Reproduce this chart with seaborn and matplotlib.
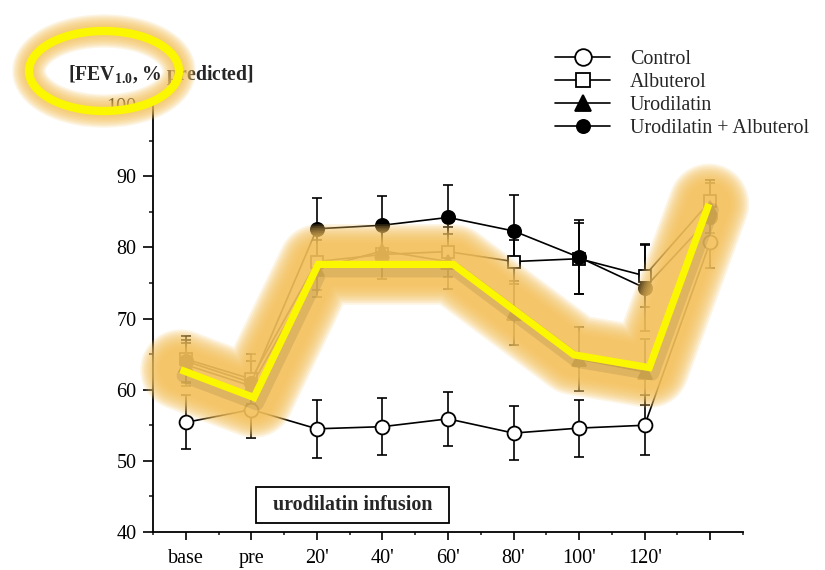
import matplotlib
matplotlib.use("Agg")
import numpy as np
import pandas as pd
import matplotlib.pyplot as plt
import seaborn as sns
from matplotlib.patches import Ellipse, Rectangle
from matplotlib.lines import Line2D
from matplotlib.ticker import FixedLocator
from matplotlib import transforms

# ---- data -------------------------------------------------------------
timepoints = ["base", "pre", "20'", "40'", "60'", "80'", "100'", "120'", ""]
series_names = ["Control", "Albuterol", "Urodilatin", "Urodilatin + Albuterol"]

control = [55.4, 57.2, 54.5, 54.8, 55.9, 53.9, 54.6, 55.0, 80.8]
control_err = [3.8, 4.0, 4.1, 4.0, 3.8, 3.8, 4.0, 4.2, 3.7]

albuterol = [64.3, 61.5, 78.0, 79.0, 79.4, 78.0, 78.4, 76.0, 86.5]
albuterol_err = [3.2, 3.5, 4.0, 3.5, 3.5, 3.1, 5.0, 4.4, 2.9]

urodilatin = [63.5, 60.5, 77.0, 79.5, 78.0, 70.8, 64.3, 62.5, 85.5]
urodilatin_err = [3.0, 3.5, 4.0, 4.0, 3.9, 4.5, 4.5, 4.6, 3.5]

uro_albu = [64.0, 61.0, 82.6, 83.1, 84.2, 82.3, 78.6, 74.3, 84.2]
uro_albu_err = [3.0, 3.0, 4.4, 4.1, 4.5, 5.0, 5.2, 6.0, 3.0]

# hand-drawn highlight path (category position, % predicted)
highlight_x = [-0.08, 1.04, 2.02, 4.08, 5.92, 7.07, 7.98]
highlight_y = [62.8, 58.9, 77.6, 77.6, 64.9, 63.1, 86.1]

y_label = r"[FEV$_{\mathbf{1.0}}$, % predicted]"
box_label = "urodilatin infusion"

# ---- tidy frame ---------------------------------------------------------
values = [control, albuterol, urodilatin, uro_albu]
errors = [control_err, albuterol_err, urodilatin_err, uro_albu_err]
pos = np.arange(len(timepoints))
frames = []
for name, v, e in zip(series_names, values, errors):
    frames.append(pd.DataFrame({"pos": pos, "value": v, "err": e, "series": name}))
df = pd.concat(frames, ignore_index=True)

# ---- style ----------------------------------------------------------------
sns.set_theme(style="ticks")
plt.rcParams["font.family"] = ["Liberation Serif", "DejaVu Serif"]
plt.rcParams["mathtext.fontset"] = "custom"
plt.rcParams["mathtext.rm"] = "Liberation Serif"
plt.rcParams["mathtext.bf"] = "Liberation Serif:bold"
plt.rcParams["axes.edgecolor"] = "black"

W, H = 825, 570
fig = plt.figure(figsize=(W / 100, H / 100), dpi=100)
fig.patch.set_facecolor("white")
ax = fig.add_axes([153 / W, 1 - 532 / H, (743 - 153) / W, (532 - 105) / H])
ax.set_facecolor("white")

markers = {"Control": "o", "Albuterol": "s", "Urodilatin": "^",
           "Urodilatin + Albuterol": "o"}
faces = {"Control": "white", "Albuterol": "white", "Urodilatin": "black",
         "Urodilatin + Albuterol": "black"}
msizes = {"Control": 10, "Albuterol": 8.5, "Urodilatin": 10,
          "Urodilatin + Albuterol": 9.5}

# error bars first so markers sit on top of them
for name in series_names:
    sub = df[df.series == name]
    ax.errorbar(sub.pos, sub.value, yerr=sub.err, fmt="none", ecolor="black",
                elinewidth=1.2, capsize=3.6, capthick=1.2, zorder=2)

sns.lineplot(data=df, x="pos", y="value", hue="series", style="series",
             hue_order=series_names, style_order=series_names,
             palette={n: "black" for n in series_names}, markers=markers,
             dashes=False, estimator=None, sort=False, errorbar=None,
             legend=False, linewidth=1.2, ax=ax)

for line, name in zip(ax.lines[-len(series_names):], series_names):
    line.set_markerfacecolor(faces[name])
    line.set_markeredgecolor("black")
    line.set_markeredgewidth(1.3)
    line.set_markersize(msizes[name])
    line.set_zorder(3)

# ---- axes -------------------------------------------------------------------
ax.set_xlim(-0.5, 8.5)
ax.set_ylim(40, 100)
ax.set_xticks(pos)
ax.set_xticklabels(timepoints)
ax.xaxis.set_minor_locator(FixedLocator(np.arange(-0.5, 8.6, 1.0)))
ax.set_yticks(np.arange(40, 101, 10))
ax.yaxis.set_minor_locator(FixedLocator(np.arange(45, 100, 10)))
ax.set_xlabel("")
ax.set_ylabel("")
sns.despine(ax=ax)
for s in ("left", "bottom"):
    ax.spines[s].set_linewidth(1.3)
ax.tick_params(axis="y", which="major", direction="out", length=7, width=1.2,
               labelsize=14.5, pad=5, colors="black")
ax.tick_params(axis="y", which="minor", direction="out", length=3, width=1.2)
ax.tick_params(axis="x", which="major", direction="out", length=5.5, width=1.2,
               labelsize=14.5, pad=7, colors="black")
ax.tick_params(axis="x", which="minor", direction="out", length=2.5, width=1.2)

# infusion period box
ax.add_patch(Rectangle((1.07, 41.3), 2.95, 5.0, facecolor="white",
                       edgecolor="black", linewidth=1.3, zorder=4))
ax.text(1.07 + 2.95 / 2, 41.3 + 2.5, box_label, ha="center", va="center",
        fontsize=14.4, fontweight="bold", zorder=5)

# axis title above the y axis
fig.text(68 / W, 1 - 75 / H, y_label, fontsize=14.2, fontweight="bold",
         ha="left", va="center")

# ---- legend -----------------------------------------------------------------
leg_sizes = {"Control": 12, "Albuterol": 10, "Urodilatin": 12,
             "Urodilatin + Albuterol": 9.5}
handles = [Line2D([0], [0], color="black", lw=1.2, marker=markers[n],
                  markersize=leg_sizes[n], markerfacecolor=faces[n],
                  markeredgecolor="black", markeredgewidth=1.3)
           for n in series_names]
fig.legend(handles, series_names, loc="upper left",
           bbox_to_anchor=(547 / W, 1 - 42 / H), frameon=False, fontsize=14.4,
           handlelength=2.75, handletextpad=1.0, labelspacing=0.2,
           borderaxespad=0)

# ---- highlighter overlay -------------------------------------------------
glow_rgb = (0.96, 0.76, 0.36)
shadow = transforms.offset_copy(ax.transData, fig=fig, x=3, y=-6, units="dots")
for w in np.linspace(58, 30, 12):
    ax.plot(highlight_x, highlight_y, color=glow_rgb, alpha=0.18, lw=w,
            solid_capstyle="round", solid_joinstyle="round", zorder=6,
            clip_on=False)
ax.plot(highlight_x, highlight_y, color=(0.35, 0.3, 0.2), alpha=0.14, lw=10,
        solid_capstyle="round", solid_joinstyle="round", zorder=6,
        transform=shadow, clip_on=False)
ax.plot(highlight_x, highlight_y, color="#fbf700", lw=5.2,
        solid_capstyle="butt", solid_joinstyle="miter", zorder=7,
        clip_on=False)

# ring around the axis title
cx, cy = 104 / W, 1 - 71 / H
ew, eh = 150 / W, 80 / H
for w in np.linspace(24, 8, 9):
    fig.add_artist(Ellipse((cx, cy), ew, eh, transform=fig.transFigure,
                           fill=False, edgecolor=glow_rgb, alpha=0.16, lw=w,
                           zorder=6))
fig.add_artist(Ellipse((cx, cy), ew, eh, transform=fig.transFigure,
                       fill=False, edgecolor="#fbf700", lw=6, zorder=7))

fig.savefig("out.png", dpi=100, facecolor="white")
